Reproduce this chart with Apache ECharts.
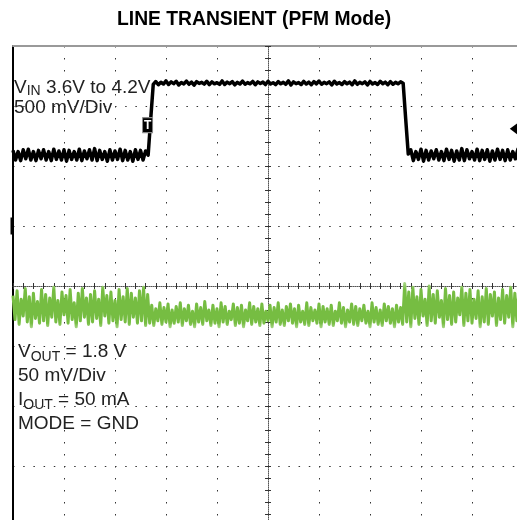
<!DOCTYPE html>
<html>
<head>
<meta charset="utf-8">
<title>Line Transient (PFM Mode)</title>
<script src="https://cdn.jsdelivr.net/npm/echarts@6.0.0/dist/echarts.min.js"></script>
<style>
  html, body { margin: 0; padding: 0; background: #fff; }
  #main { width: 517px; height: 520px; }
</style>
</head>
<body>
<div id="main"></div>
<script>
// horizontal axis is counted in scope divisions (10 div across)
var vinStep = 0.05;   // div per sample, CH1
var voutStep = 0.04;  // div per sample, CH2

// CH1: VIN in volts, 500 mV/div
var vinValues = [
  3.64, 3.56, 3.63, 3.555, 3.645, 3.57, 3.65, 3.56, 3.63, 3.555,
  3.64, 3.57, 3.645, 3.56, 3.63, 3.555, 3.65, 3.565, 3.635, 3.56,
  3.645, 3.55, 3.64, 3.565, 3.63, 3.56, 3.65, 3.555, 3.635, 3.57,
  3.645, 3.56, 3.655, 3.555, 3.64, 3.565, 3.63, 3.55, 3.645, 3.56,
  3.635, 3.565, 3.65, 3.555, 3.64, 3.56, 3.63, 3.55, 3.645, 3.565,
  3.64, 3.56, 3.635,
  3.60, 3.90, 4.19,
  4.214, 4.187, 4.208, 4.193, 4.219, 4.189, 4.211, 4.196, 4.216, 4.185,
  4.206, 4.194, 4.218, 4.191, 4.209, 4.184, 4.213, 4.198, 4.207, 4.192,
  4.216, 4.188, 4.211, 4.195, 4.204, 4.190, 4.219, 4.189, 4.209, 4.196,
  4.213, 4.186, 4.207, 4.193, 4.218, 4.191, 4.205, 4.195, 4.215, 4.187,
  4.211, 4.198, 4.209, 4.189, 4.216, 4.193, 4.204, 4.188, 4.213, 4.195,
  4.207, 4.191, 4.219, 4.185, 4.211, 4.196, 4.205, 4.189, 4.215, 4.193,
  4.209, 4.187, 4.213, 4.195, 4.218, 4.191, 4.207, 4.196, 4.211, 4.185,
  4.216, 4.193, 4.205, 4.189, 4.213, 4.195, 4.209, 4.187, 4.219, 4.191,
  4.207, 4.196, 4.211, 4.185, 4.215, 4.193, 4.205, 4.189, 4.216, 4.195,
  4.209, 4.187, 4.213, 4.191, 4.207, 4.195, 4.211,
  4.200, 3.90, 3.61,
  3.645, 3.555, 3.63, 3.565, 3.65, 3.55, 3.64, 3.56, 3.635, 3.57,
  3.645, 3.56, 3.63, 3.555, 3.65, 3.565, 3.64, 3.55, 3.635, 3.56,
  3.655, 3.555, 3.645, 3.57, 3.63, 3.56, 3.65, 3.555, 3.64, 3.565,
  3.645, 3.55, 3.635, 3.56, 3.65, 3.565, 3.64, 3.555, 3.645, 3.56,
  3.63, 3.57, 3.65, 3.56
];

// CH2: VOUT in volts, 50 mV/div
var voutValues = [
  1.812, 1.792, 1.816, 1.788, 1.809, 1.795, 1.818, 1.790, 1.811, 1.786,
  1.814, 1.793, 1.807, 1.789, 1.817, 1.791, 1.813, 1.787, 1.810, 1.794,
  1.819, 1.790, 1.808, 1.788, 1.815, 1.796, 1.812, 1.789, 1.817, 1.792,
  1.806, 1.786, 1.814, 1.791, 1.818, 1.794, 1.810, 1.788, 1.813, 1.790,
  1.816, 1.793, 1.809, 1.787, 1.819, 1.795, 1.812, 1.789, 1.815, 1.791,
  1.808, 1.786, 1.817, 1.792, 1.811, 1.790, 1.818, 1.788, 1.814, 1.794,
  1.810, 1.789, 1.816, 1.791, 1.819, 1.787, 1.813,
  1.789, 1.804, 1.787, 1.801, 1.791, 1.806, 1.788, 1.802, 1.790, 1.805, 1.786, 1.800, 1.789,
  1.803, 1.790, 1.806, 1.787, 1.801, 1.791, 1.804, 1.788, 1.799, 1.786,
  1.805, 1.790, 1.802, 1.788, 1.807, 1.791, 1.800, 1.787, 1.804, 1.789,
  1.801, 1.786, 1.806, 1.790, 1.803, 1.788, 1.799, 1.792, 1.805, 1.787,
  1.802, 1.789, 1.804, 1.786, 1.800, 1.791, 1.806, 1.788, 1.803, 1.790,
  1.801, 1.787, 1.805, 1.789, 1.799, 1.791, 1.804, 1.786, 1.802, 1.790,
  1.806, 1.788, 1.800, 1.787, 1.803, 1.791, 1.805, 1.789, 1.801, 1.786,
  1.804, 1.790, 1.799, 1.788, 1.806, 1.787, 1.802, 1.791, 1.800, 1.789,
  1.805, 1.786, 1.803, 1.790, 1.801, 1.788, 1.804, 1.787, 1.799, 1.791,
  1.806, 1.789, 1.802, 1.786, 1.800, 1.790, 1.805, 1.788, 1.803, 1.787,
  1.801, 1.791, 1.804, 1.789, 1.799, 1.786, 1.806, 1.790, 1.802, 1.788,
  1.800, 1.787, 1.805, 1.791, 1.803, 1.789, 1.801, 1.786, 1.804, 1.790,
  1.802, 1.788,
  1.822, 1.790, 1.815, 1.786, 1.819, 1.793, 1.811, 1.788,
  1.817, 1.795, 1.809, 1.787, 1.820, 1.791, 1.813, 1.789, 1.816, 1.794,
  1.808, 1.786, 1.818, 1.792, 1.812, 1.788, 1.815, 1.790, 1.810, 1.796,
  1.819, 1.787, 1.814, 1.791, 1.817, 1.789, 1.809, 1.793, 1.816, 1.786,
  1.811, 1.790, 1.818, 1.788, 1.813, 1.795, 1.815, 1.787, 1.810, 1.792,
  1.817, 1.789, 1.812, 1.794, 1.819, 1.786, 1.814, 1.791, 1.816, 1.790
];

// scope markers
var triggerTime = 2.64, triggerFlag = 3.85;       // "T" flag on CH1
var triggerLevelTime = 9.82, triggerLevel = 3.82; // arrow at right edge
var ch2Marker = 1.87;                             // CH2 marker on left edge

function toPairs(step, values) {
    return values.map(function (v, i) {
        return [+(i * step).toFixed(3), v];
    });
}

var myChart = echarts.init(document.getElementById('main'), null, { renderer: 'canvas' });

var dots = '#333';
var labelRich = function (lh) {
    return {
        m: { fontSize: 19, lineHeight: lh, color: '#222', fontWeight: 'normal', verticalAlign: 'middle' },
        s: { fontSize: 14, lineHeight: lh, color: '#222', fontWeight: 'normal', verticalAlign: 'bottom' }
    };
};

var option = {
    animation: false,
    backgroundColor: '#fff',
    textStyle: { fontFamily: 'Liberation Sans, Arial, sans-serif' },
    title: [{
        text: 'LINE TRANSIENT (PFM Mode)',
        left: 117,
        top: 10,
        padding: 0,
        textStyle: { fontSize: 19.3, fontWeight: 'bold', color: '#000' }
    }, {
        text: '{m|V}{s|IN}{m| 3.6V to 4.2V}\n{m|500 mV/Div}',
        left: 14,
        top: 78,
        padding: 0,
        textStyle: { rich: labelRich(20) }
    }, {
        text: '{m|V}{s|OUT}{m| = 1.8 V}\n{m|50 mV/Div}\n{m|I}{s|OUT}{m| = 50 mA}\n{m|MODE = GND}',
        left: 18,
        top: 340,
        padding: 0,
        textStyle: { rich: labelRich(24) }
    }],
    grid: { left: 13, top: 46, width: 510, height: 480, outerBoundsMode: 'none' },
    xAxis: [{
        // main time axis, 10 div
        type: 'value', min: 0, max: 10, interval: 1, position: 'top',
        axisLine: { show: true, onZero: false, lineStyle: { color: '#999', width: 2 } },
        axisTick: { show: false }, axisLabel: { show: false },
        splitLine: { show: true, lineStyle: { color: dots, width: 1, type: [1.5, 10.5] } }
    }, {
        // centre horizontal line with minor ticks (up)
        type: 'value', min: 0, max: 10, interval: 0.2, position: 'bottom', offset: -240,
        axisLine: { show: true, onZero: false, lineStyle: { color: '#555', width: 1, type: [1, 1] } },
        axisTick: { show: true, inside: true, length: 3, lineStyle: { color: dots } },
        axisLabel: { show: false }, splitLine: { show: false }
    }, {
        // centre horizontal line minor ticks (down)
        type: 'value', min: 0, max: 10, interval: 0.2, position: 'bottom', offset: -240,
        axisLine: { show: false },
        axisTick: { show: true, inside: false, length: 3, lineStyle: { color: dots } },
        axisLabel: { show: false }, splitLine: { show: false }
    }],
    yAxis: [{
        // screen divisions, 8 div high
        type: 'value', min: 0, max: 8, interval: 1, position: 'left',
        axisLine: { show: true, onZero: false, lineStyle: { color: '#000', width: 2 } },
        axisTick: { show: false }, axisLabel: { show: false },
        splitLine: { show: true, lineStyle: { color: dots, width: 1, type: [1.5, 8.7] } }
    }, {
        // CH1 scale, 0.5 V/div
        type: 'value', min: 0.51, max: 4.51, show: false
    }, {
        // CH2 scale, 50 mV/div
        type: 'value', min: 1.62, max: 2.02, show: false
    }, {
        // centre vertical line with minor ticks (right)
        type: 'value', min: 0, max: 8, interval: 0.2, position: 'left', offset: -255,
        axisLine: { show: true, onZero: false, lineStyle: { color: '#555', width: 1, type: [1, 1] } },
        axisTick: { show: true, inside: true, length: 3, lineStyle: { color: dots } },
        axisLabel: { show: false }, splitLine: { show: false }
    }, {
        // centre vertical line minor ticks (left)
        type: 'value', min: 0, max: 8, interval: 0.2, position: 'left', offset: -255,
        axisLine: { show: false },
        axisTick: { show: true, inside: false, length: 3, lineStyle: { color: dots } },
        axisLabel: { show: false }, splitLine: { show: false }
    }],
    series: [{
        name: 'VOUT',
        type: 'line',
        xAxisIndex: 0,
        yAxisIndex: 2,
        data: toPairs(voutStep, voutValues),
        showSymbol: false,
        silent: true,
        z: 3,
        lineStyle: {
            width: 3,
            join: 'round',
            color: {
                type: 'linear', x: 0, y: 0, x2: 0, y2: 1,
                colorStops: [
                    { offset: 0, color: '#b3db96' },
                    { offset: 0.18, color: '#76bd42' },
                    { offset: 0.87, color: '#76bd42' },
                    { offset: 1, color: '#b3db96' }
                ]
            }
        },
        markPoint: {
            silent: true,
            symbol: 'rect',
            symbolSize: [3, 17],
            symbolOffset: [-1, 0],
            itemStyle: { color: '#000' },
            label: { show: false },
            data: [{ coord: [0, ch2Marker] }]
        }
    }, {
        name: 'VIN',
        type: 'line',
        xAxisIndex: 0,
        yAxisIndex: 1,
        data: toPairs(vinStep, vinValues),
        showSymbol: false,
        silent: true,
        z: 4,
        lineStyle: { width: 3.5, join: 'round', color: '#000' },
        markPoint: {
            silent: true,
            itemStyle: { color: '#000' },
            data: [{
                coord: [triggerTime, triggerFlag],
                symbol: 'rect',
                symbolSize: [10, 15],
                itemStyle: { color: '#000', borderColor: '#888', borderWidth: 1 },
                label: { show: true, formatter: 'T', color: '#fff', fontSize: 12, fontWeight: 'bold' }
            }, {
                coord: [triggerLevelTime, triggerLevel],
                symbol: 'triangle',
                symbolSize: [12, 8],
                symbolRotate: 90,
                label: { show: false }
            }]
        }
    }]
};

myChart.setOption(option);
</script>
</body>
</html>
